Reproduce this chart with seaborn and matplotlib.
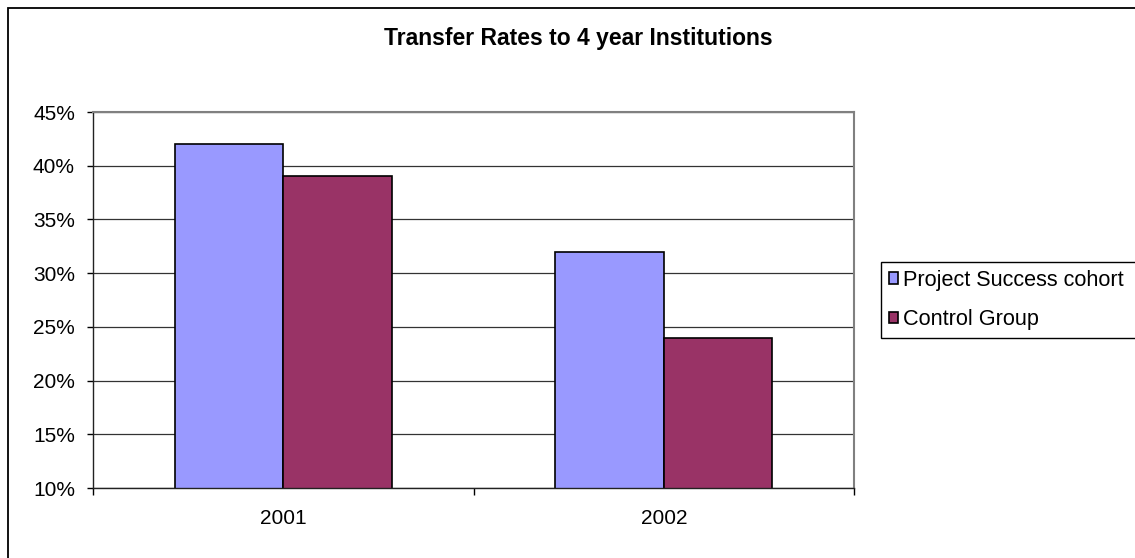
import matplotlib
matplotlib.use("Agg")
import matplotlib.pyplot as plt
import matplotlib.patches as mpatches
import seaborn as sns
import pandas as pd
from matplotlib.ticker import FuncFormatter

# Chart data
years = ["2001", "2002"]
groups = ["Project Success cohort", "Control Group"]
project_success = [42, 32]
control_group = [39, 24]
y_ticks = [10, 15, 20, 25, 30, 35, 40, 45]
title = "Transfer Rates to 4 year Institutions"

df = pd.DataFrame({
    "Year": years * 2,
    "Group": [groups[0]] * len(years) + [groups[1]] * len(years),
    "Rate": project_success + control_group,
})

sns.set_theme(style="white")
plt.rcParams["font.family"] = ["Liberation Sans", "DejaVu Sans"]

W, H = 1135, 558
fig = plt.figure(figsize=(W / 100, H / 100), dpi=100)
ax = fig.add_axes([93 / W, 1 - 488 / H, 761 / W, 376 / H])

sns.barplot(
    data=df, x="Year", y="Rate", hue="Group",
    palette=["#9999FF", "#993366"], saturation=1,
    width=2 / 3.5, edgecolor="black", linewidth=1.2,
    ax=ax, legend=True,
)

ax.set_ylim(10, 45)
ax.set_xlim(-0.5, 1.5)
ax.set_xlabel("")
ax.set_ylabel("")

# y axis: percent ticks
ax.set_yticks(y_ticks)
ax.yaxis.set_major_formatter(FuncFormatter(lambda v, _: f"{v:.0f}%"))
ax.tick_params(axis="y", which="major", direction="out", length=4.5, width=1,
               color="black", pad=8.5, labelsize=15, labelcolor="black", left=True)

# x axis: tick marks between categories, labels centred on categories
ax.set_xticks([-0.5, 0.5, 1.5])
ax.set_xticklabels(["", "", ""])
ax.set_xticks([0, 1], minor=True)
ax.set_xticklabels(years, minor=True)
ax.tick_params(axis="x", which="major", direction="out", length=5, width=1,
               color="black", bottom=True)
ax.tick_params(axis="x", which="minor", length=0, pad=15, labelsize=15,
               labelcolor="black", bottom=True)

# grid and plot-area frame
ax.set_axisbelow(True)
ax.yaxis.grid(True, color="#333333", linewidth=0.9)
ax.xaxis.grid(False)
for side in ("left", "bottom"):
    ax.spines[side].set_color("#222222")
    ax.spines[side].set_linewidth(1.0)
for side in ("top", "right"):
    ax.spines[side].set_color("#808080")
    ax.spines[side].set_linewidth(1.5)

# legend: box runs past the right edge of the figure
handles, labels = ax.get_legend_handles_labels()
ax.get_legend().remove()
leg = ax.legend(
    handles, labels, loc="upper left", mode="expand",
    bbox_to_anchor=(881 / W, 1 - 262 / H, 275 / W, 0),
    bbox_transform=fig.transFigure,
    frameon=True, fancybox=False, edgecolor="black", framealpha=1,
    fontsize=15.6, handlelength=0.42, handleheight=0.42, handletextpad=0.25,
    labelspacing=0.85, borderpad=0.36, borderaxespad=0,
)
leg.get_frame().set_linewidth(1.0)
for t in leg.get_texts():
    t.set_color("black")

# title
fig.text(578 / W, 1 - 39 / H, title, ha="center", va="center",
         fontsize=16.5, fontweight="bold", color="black")

# chart border
fig.patches.append(mpatches.Rectangle(
    (8 / W, -0.1), 1.2, 1 - 8 / H + 0.1, transform=fig.transFigure,
    fill=False, edgecolor="black", linewidth=1.3))

fig.savefig("out.png", dpi=100)
